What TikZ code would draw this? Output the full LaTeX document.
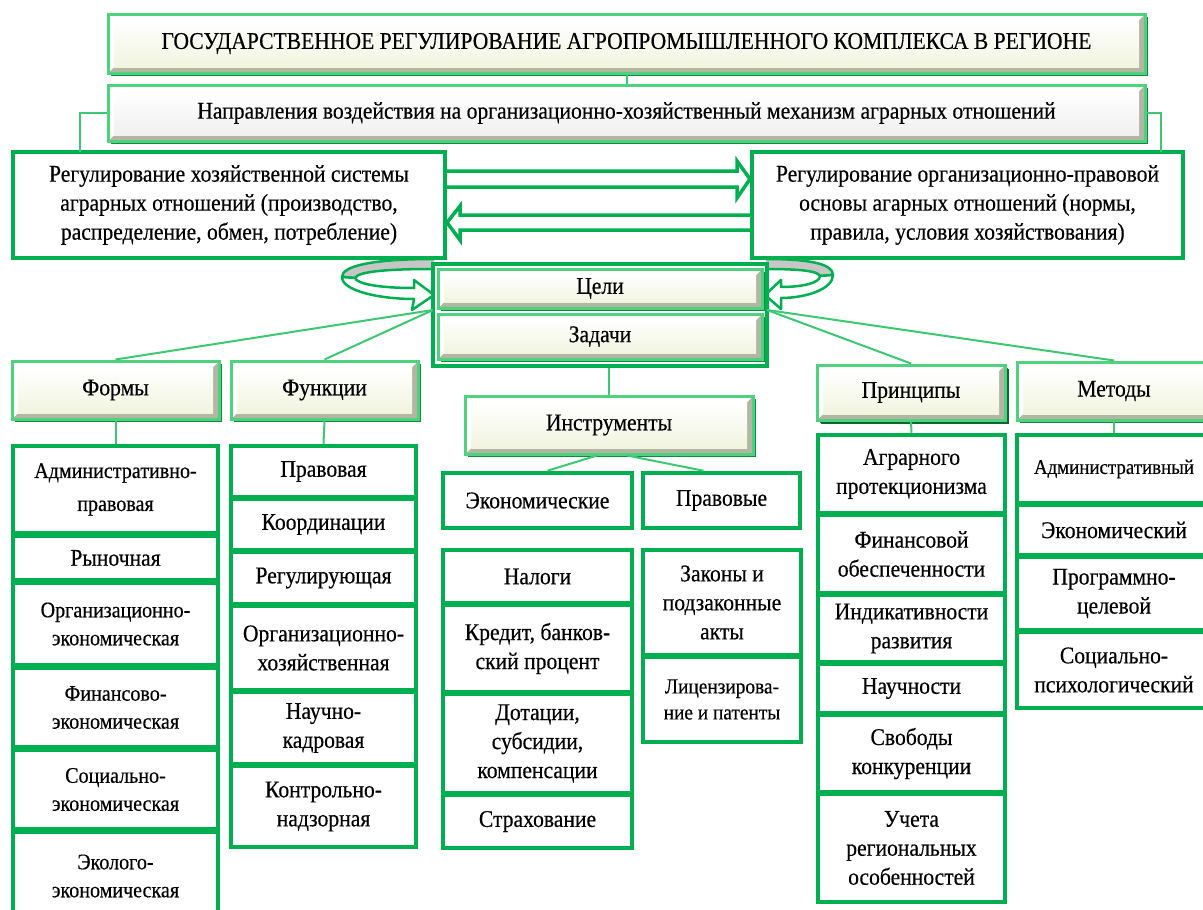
\documentclass[tikz,border=0pt]{standalone}
\usepackage{fontspec}
\setmainfont{Liberation Serif}[FakeStretch=0.9, FakeBold=0.4]
\usetikzlibrary{shadows}
\definecolor{gmain}{HTML}{00B050}
\definecolor{glight}{HTML}{4FD27E}
\definecolor{gdark}{HTML}{138A43}
\definecolor{gline}{HTML}{3CC870}
\definecolor{cream}{HTML}{F1F4DF}
\definecolor{bevgray}{HTML}{B4B6A4}
\definecolor{ringgray}{HTML}{C6C6C6}
\newcommand\fN{\fontsize{24}{29}\selectfont}
\newcommand\fS{\fontsize{22.3}{28}\selectfont}
\newcommand\fT{\fontsize{24}{26}\selectfont}
\newcommand\shl{\hspace*{-16pt}}
\begin{document}
\begin{tikzpicture}[x=1pt,y=-1pt,
  bev/.style={draw=glight, line width=3pt, fill=cream, inner sep=0pt, align=center, font=\fN,
    drop shadow={shadow xshift=2.5pt, shadow yshift=-2.5pt, fill=gdark, opacity=1},
    path picture={
      \fill[bevgray] (path picture bounding box.south west) -- (path picture bounding box.south east)
        -- (path picture bounding box.north east) -- ([xshift=-6pt,yshift=-6pt]path picture bounding box.north east)
        -- ([xshift=-6pt,yshift=6pt]path picture bounding box.south east) -- ([xshift=6pt,yshift=6pt]path picture bounding box.south west) -- cycle;
      \fill[white] (path picture bounding box.south west) -- (path picture bounding box.north west)
        -- (path picture bounding box.north east) -- ([xshift=-6pt,yshift=-6pt]path picture bounding box.north east)
        -- ([xshift=6pt,yshift=-6pt]path picture bounding box.north west) -- ([xshift=6pt,yshift=6pt]path picture bounding box.south west) -- cycle;
      \shade[top color=white, bottom color=bevcolor] ([xshift=6pt,yshift=6pt]path picture bounding box.south west) rectangle ([xshift=-6pt,yshift=-6pt]path picture bounding box.north east);
    }},
  bigbox/.style={draw=gmain, line width=4.5pt, fill=white, inner sep=2pt, align=center, font=\fN},
  item/.style={draw=gmain, line width=4.5pt, fill=white, inner sep=1pt, align=center, font=\fN},
  itemS/.style={item, font=\fS},
  conn/.style={draw=gline, line width=2pt},
  barrow/.style={draw=gmain, line width=3.5pt, fill=white, line join=miter},
  ring/.style={draw=gmain, line width=2.5pt, line join=round}]
\colorlet{bevcolor}{cream}
\useasboundingbox (0,0) rectangle (1203,910);

% block arrows between the two boxes
\draw[barrow] (445,171) -- (737,171) -- (737,161) -- (750,179) -- (737,198) -- (737,187) -- (445,187);
\draw[barrow] (752,215) -- (460,215) -- (460,206) -- (447,222.5) -- (460,240) -- (460,230) -- (752,230);

% rings around the goals box
\draw[ring, fill=ringgray] (434,259) .. controls (372,259) and (342,266) .. (342,277) -- (355,278) .. controls (358,271) and (392,269) .. (434,269);
\draw[ring, fill=white] (342,277) .. controls (342,291) and (380,299) .. (414,299) -- (412,310) -- (434,295) -- (414,280) -- (414,288) .. controls (380,288) and (357,284) .. (355,278) -- cycle;
\draw[ring, fill=ringgray] (766,259) .. controls (810,259) and (833,264) .. (833,275) -- (820,276) .. controls (818,271) and (800,269) .. (766,269);
\draw[ring, fill=white] (833,275) .. controls (833,289) and (806,298) .. (781,298) -- (781,309) -- (765,295) -- (781,280) -- (781,287) .. controls (802,287) and (820,283) .. (820,276) -- cycle;

% top
\node[bev, font=\fT, minimum width=1037, minimum height=59] (title) at (626.5,43.5) {ГОСУДАРСТВЕННОЕ РЕГУЛИРОВАНИЕ АГРОПРОМЫШЛЕННОГО КОМПЛЕКСА В РЕГИОНЕ};
\begin{scope}
\colorlet{bevcolor}{white!94!black}
\node[bev, fill=white, minimum width=1037, minimum height=56] (napr) at (626.5,113) {Направления воздействия на организационно-хозяйственный механизм аграрных отношений};
\end{scope}
\node[bigbox, minimum width=432, minimum height=106] (lbox) at (229,205) {Регулирование хозяйственной системы\\аграрных отношений (производство,\\распределение, обмен, потребление)};
\node[bigbox, minimum width=431, minimum height=106] (rbox) at (967.5,205) {Регулирование организационно-правовой\\основы агарных отношений (нормы,\\правила, условия хозяйствования)};

% goals / tasks
\node[draw=gmain, line width=4pt, fill=white, minimum width=334, minimum height=102] (frame) at (600,315) {};
\node[bev, minimum width=324, minimum height=39] (celi) at (600,288.5) {Цели};
\node[bev, minimum width=324, minimum height=45] (zad) at (600,336.5) {Задачи};

% heads of columns
\node[bev, minimum width=207, minimum height=58] (formy) at (115.5,390) {Формы};
\node[bev, minimum width=187, minimum height=58] (funk) at (324.5,390) {Функции};
\node[bev, minimum width=288, minimum height=58] (instr) at (609,425) {Инструменты};
\node[bev, minimum width=188, minimum height=55, drop shadow={shadow xshift=4pt, shadow yshift=-4pt, fill=gdark!75!black, opacity=1}] (princ) at (911,392.5) {Принципы};
\node[bev, minimum width=210, minimum height=58] (metod) at (1122,391) {\shl Методы};

% forms
\node[itemS, minimum width=205, minimum height=87, font=\fontsize{22.3}{33}\selectfont] (f1) at (115.5,489.5) {Административно-\\правовая};
\node[item, minimum width=205, minimum height=44] (f2) at (115.5,558) {Рыночная};
\node[itemS, minimum width=205, minimum height=82] (f3) at (115.5,624) {Организационно-\\экономическая};
\node[itemS, minimum width=205, minimum height=79] (f4) at (115.5,707.5) {Финансово-\\экономическая};
\node[itemS, minimum width=205, minimum height=79] (f5) at (115.5,789.5) {Социально-\\экономическая};
\node[itemS, minimum width=205, minimum height=88] (f6) at (115.5,876) {Эколого-\\экономическая};

% functions
\node[item, minimum width=185, minimum height=51] (u1) at (323.5,471.5) {Правовая};
\node[item, minimum width=185, minimum height=51] (u2) at (323.5,524.5) {Координации};
\node[item, minimum width=185, minimum height=52] (u3) at (323.5,578) {Регулирующая};
\node[item, minimum width=185, minimum height=84] (u4) at (323.5,648) {Организационно-\\хозяйственная};
\node[item, minimum width=185, minimum height=72] (u5) at (323.5,728) {Научно-\\кадровая};
\node[item, minimum width=185, minimum height=81] (u6) at (323.5,806.5) {Контрольно-\\надзорная};

% instruments
\node[item, minimum width=189, minimum height=55] (econ) at (537.5,500.5) {Экономические};
\node[item, minimum width=157, minimum height=55] (prav) at (721.5,500.5) {Правовые};
\node[item, minimum width=189, minimum height=53] (e1) at (537.5,576.5) {Налоги};
\node[item, minimum width=189, minimum height=87] (e2) at (537.5,648.5) {Кредит, банков-\\ский процент};
\node[item, minimum width=189, minimum height=99] (e3) at (537.5,743.5) {Дотации,\\субсидии,\\компенсации};
\node[item, minimum width=189, minimum height=53] (e4) at (537.5,821.5) {Страхование};
\node[item, minimum width=158, minimum height=105] (p1) at (722,602.5) {Законы и\\подзаконные\\акты};
\node[itemS, minimum width=158, minimum height=85, font=\fontsize{21.5}{26}\selectfont] (p2) at (722,699.5) {Лицензирова-\\ние и патенты};

% principles
\node[item, minimum width=187, minimum height=78] (r1) at (911.5,474) {Аграрного\\протекционизма};
\node[item, minimum width=187, minimum height=78] (r2) at (911.5,554) {Финансовой\\обеспеченности};
\node[item, minimum width=187, minimum height=67] (r3) at (911.5,628.5) {Индикативности\\развития};
\node[item, minimum width=187, minimum height=49] (r4) at (911.5,688.5) {Научности};
\node[item, minimum width=187, minimum height=77] (r5) at (911.5,753.5) {Свободы\\конкуренции};
\node[item, minimum width=187, minimum height=108] (r6) at (911.5,848) {Учета\\региональных\\особенностей};

% methods
\node[itemS, minimum width=210, minimum height=68, font=\fontsize{21}{28}\selectfont] (m1) at (1122,469) {\shl Административный};
\node[item, minimum width=210, minimum height=50] (m2) at (1122,530) {\shl Экономический};
\node[item, minimum width=210, minimum height=73] (m3) at (1122,593.5) {\shl Программно-\\\shl целевой};
\node[item, minimum width=210, minimum height=76] (m4) at (1122,670) {\shl Социально-\\\shl психологический};

% connectors
\coordinate (lj) at (80,152);
\coordinate (rj) at (1161,152);
\coordinate (jl) at (433,310);
\coordinate (jr) at (767,310);
\draw[conn] (title.south) -- (napr.north);
\draw[conn] (napr.west) -| (lj);
\draw[conn] (napr.east) -| (rj);
\draw[conn] (jl) -- (formy.north);
\draw[conn] (jl) -- (funk.north);
\draw[conn] (jr) -- (princ.north);
\draw[conn] (jr) -- ([xshift=-8pt]metod.north);
\draw[conn] (instr.north) -- (instr.north |- frame.south);
\draw[conn] ([xshift=-12pt]instr.south) -- ([xshift=10pt]econ.north);
\draw[conn] ([xshift=18pt]instr.south) -- ([xshift=-18pt]prav.north);
\draw[conn] (formy.south) -- (f1.north);
\draw[conn] (funk.south) -- (u1.north);
\draw[conn] (princ.south) -- (r1.north);
\draw[conn] ([xshift=-8pt]metod.south) -- ([xshift=-8pt]m1.north);
\end{tikzpicture}
\end{document}
